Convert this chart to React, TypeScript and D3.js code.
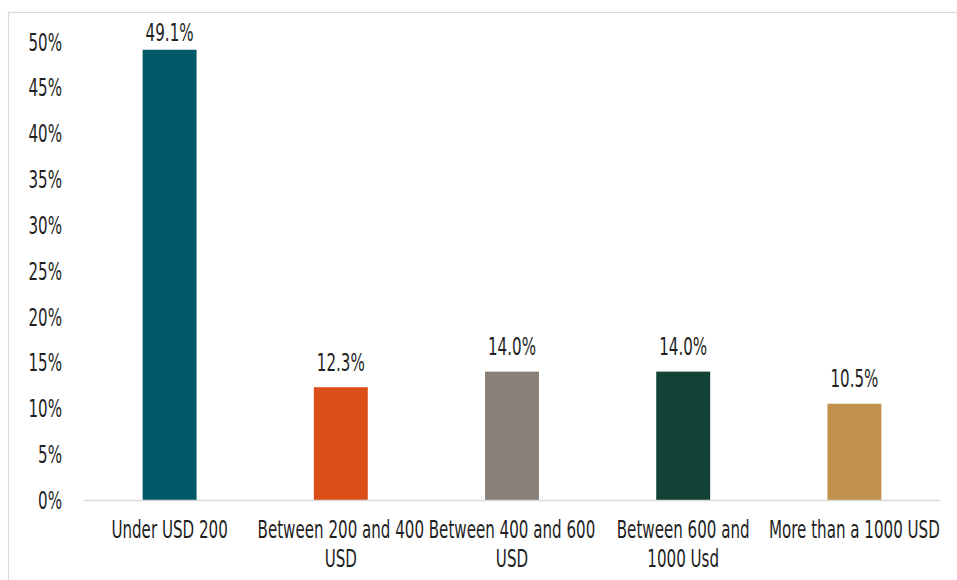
import React from "react";
import * as d3 from "d3";

// Share of respondents by price bracket
const categories: string[] = [
  "Under USD 200",
  "Between 200 and 400 USD",
  "Between 400 and 600 USD",
  "Between 600 and 1000 Usd",
  "More than a 1000 USD",
];
const shares: number[] = [0.491, 0.123, 0.14, 0.14, 0.105];
const barColors: string[] = ["#025A69", "#DA4F17", "#8A8077", "#124236", "#C0914D"];
const yTicks: number[] = [0, 0.05, 0.1, 0.15, 0.2, 0.25, 0.3, 0.35, 0.4, 0.45, 0.5];

const W = 957;
const H = 580;
const FONT = "'Liberation Sans Narrow', 'DejaVu Sans Condensed', 'Liberation Sans', sans-serif";
const FONT_SIZE = 24;
const SX = 0.7; // horizontal squeeze for a condensed look
const TEXT = "#1f1f1f";

function measure(text: string): number {
  const c = document.createElement("canvas").getContext("2d");
  if (!c) return text.length * 9;
  c.font = `${FONT_SIZE}px ${FONT}`;
  return c.measureText(text).width * SX;
}

function wrap(text: string, maxW: number): string[] {
  const words = text.split(" ");
  const lines: string[] = [];
  let cur = "";
  for (const w of words) {
    const trial = cur ? cur + " " + w : w;
    if (cur && measure(trial) > maxW) {
      lines.push(cur);
      cur = w;
    } else {
      cur = trial;
    }
  }
  if (cur) lines.push(cur);
  return lines;
}

export default function App() {
  const x = d3
    .scaleBand<string>()
    .domain(categories)
    .range([84, 940])
    .paddingInner(0.685)
    .paddingOuter(0.3425);
  const y = d3.scaleLinear().domain([0, 0.5]).range([500, 41.5]);
  const pct0 = d3.format(".0%");
  const pct1 = d3.format(".1%");
  const step = x.step();

  return (
    <svg
      width={W}
      height={H}
      style={{ position: "fixed", left: 0, top: 0, background: "#fff" }}
      fontFamily={FONT}
      fontSize={FONT_SIZE}
    >
      <rect x={8.5} y={12.5} width={W + 20} height={H + 20} fill="#fff" stroke="#D9D9D9" strokeWidth={1.2} />

      {yTicks.map((t) => (
        <text
          key={t}
          transform={`translate(62,${y(t) + 9}) scale(${SX},1)`}
          textAnchor="end"
          fill={TEXT}
        >
          {pct0(t)}
        </text>
      ))}

      {categories.map((c, i) => {
        const bx = x(c) as number;
        const by = y(shares[i]);
        const cx = bx + x.bandwidth() / 2;
        // labels sit above the bar, kept inside the plot frame
        const ly = Math.max(by - 16.5, 41);
        return (
          <g key={c}>
            <rect x={bx} y={by} width={x.bandwidth()} height={y(0) - by} fill={barColors[i]} />
            <text transform={`translate(${cx},${ly}) scale(${SX},1)`} textAnchor="middle" fill={TEXT}>
              {pct1(shares[i])}
            </text>
          </g>
        );
      })}

      <line x1={84} x2={940} y1={500.5} y2={500.5} stroke="#D9D9D9" strokeWidth={1.5} />

      {categories.map((c) => {
        const cx = (x(c) as number) + x.bandwidth() / 2;
        const lines = wrap(c, step);
        return lines.map((ln, k) => (
          <text
            key={c + k}
            transform={`translate(${cx},${538 + k * 29}) scale(${SX},1)`}
            textAnchor="middle"
            fill={TEXT}
          >
            {ln}
          </text>
        ));
      })}
    </svg>
  );
}
